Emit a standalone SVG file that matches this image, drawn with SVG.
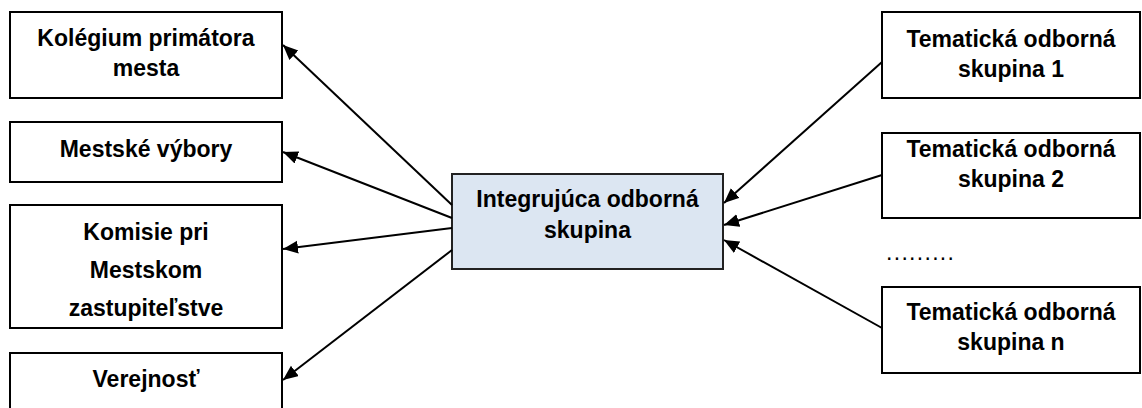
<svg xmlns="http://www.w3.org/2000/svg" width="1142" height="408" viewBox="0 0 1142 408">
<style>
.box{fill:#fff;stroke:#000;stroke-width:2}
.main{fill:#dce6f2;stroke:#222;stroke-width:2}
text{font-family:"Liberation Sans",Arial,sans-serif;font-size:23px;font-weight:bold;fill:#000;text-anchor:middle}
.dots{font-weight:normal;text-anchor:start;letter-spacing:1.3px}
.conn line{stroke:#000;stroke-width:2;marker-end:url(#arr)}
</style>
<defs>
<marker id="arr" markerUnits="userSpaceOnUse" markerWidth="16" markerHeight="14" refX="15" refY="6.5" orient="auto">
<path d="M0,0 L15,6.5 L0,13 z" fill="#000"/>
</marker>
</defs>
<rect width="1142" height="408" fill="#fff"/>
<g id="n-kolegium"><rect class="box" x="10" y="12" width="272" height="86"/><text x="146" y="46">Kolégium primátora</text><text x="146" y="76">mesta</text></g>
<g id="n-vybory"><rect class="box" x="10" y="122" width="272" height="60"/><text x="146" y="157">Mestské výbory</text></g>
<g id="n-komisie"><rect class="box" x="10" y="205" width="272" height="123"/><text x="146" y="240">Komisie pri</text><text x="146" y="278">Mestskom</text><text x="146" y="316">zastupiteľstve</text></g>
<g id="n-verejnost"><rect class="box" x="10" y="353" width="272" height="70"/><text x="146" y="387">Verejnosť</text></g>
<g id="n-integ"><rect class="main" x="452" y="174" width="271" height="95"/><text x="587.5" y="207">Integrujúca odborná</text><text x="587.5" y="238">skupina</text></g>
<g id="n-t1"><rect class="box" x="882" y="12" width="258" height="86"/><text x="1011" y="47">Tematická odborná</text><text x="1011" y="77">skupina 1</text></g>
<g id="n-t2"><rect class="box" x="882" y="133" width="258" height="85"/><text x="1011" y="157">Tematická odborná</text><text x="1011" y="187">skupina 2</text></g>
<g id="n-dots"><text class="dots" x="886" y="260">.........</text></g>
<g id="n-tn"><rect class="box" x="882" y="287" width="258" height="86"/><text x="1011" y="320">Tematická odborná</text><text x="1011" y="350">skupina n</text></g>
<g id="connectors" class="conn">
<line x1="452" y1="205" x2="283" y2="45"/>
<line x1="452" y1="218" x2="283" y2="152"/>
<line x1="452" y1="228" x2="283" y2="249"/>
<line x1="452" y1="250" x2="283" y2="380"/>
<line x1="882" y1="62" x2="724" y2="203"/>
<line x1="882" y1="175" x2="724" y2="225"/>
<line x1="882" y1="328" x2="724" y2="240"/>
</g>
</svg>
